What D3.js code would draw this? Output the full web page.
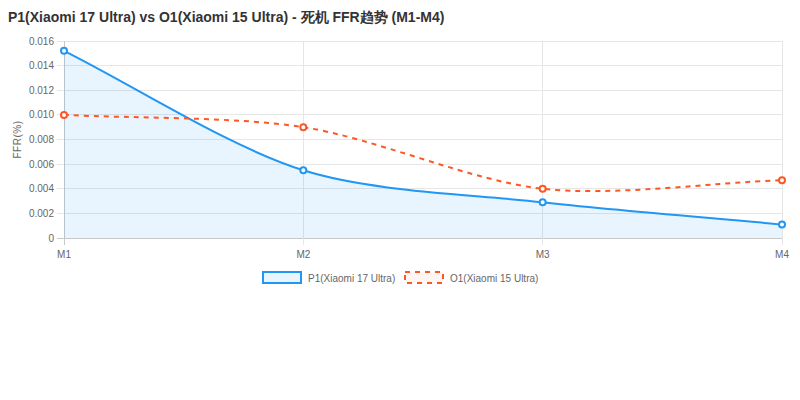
<!DOCTYPE html>
<html><head><meta charset="utf-8">
<script src="https://cdn.jsdelivr.net/npm/d3@7"></script>
<style>
html,body{margin:0;padding:0;background:#fff;}
svg{display:block;font-family:"Liberation Sans",Arial,Helvetica,sans-serif;}
</style></head>
<body><svg id="c" width="800" height="400"></svg>
<script>
const categories = ["M1","M2","M3","M4"];
const p1Values = [0.0152, 0.0055, 0.0029, 0.0011];
const o1Values = [0.0100, 0.0090, 0.0040, 0.0047];
const yTicks = [0,0.002,0.004,0.006,0.008,0.010,0.012,0.014,0.016];
const yTickLabels = ["0","0.002","0.004","0.006","0.008","0.010","0.012","0.014","0.016"];
const seriesNames = ["P1(Xiaomi 17 Ultra)","O1(Xiaomi 15 Ultra)"];
const titleText = "P1(Xiaomi 17 Ultra) vs O1(Xiaomi 15 Ultra) - 死机 FFR趋势 (M1-M4)";
const yTitle = "FFR(%)";

const svg = d3.select("#c");
const L=64,R=782,T=41,B=238;
const x = d3.scalePoint().domain(categories).range([L,R]);
const y = d3.scaleLinear().domain([0,0.016]).range([B,T]);

svg.append("text").attr("x",8).attr("y",22).attr("font-size",14).attr("font-weight","bold")
  .attr("fill","#333").text(titleText);

const g = svg.append("g");
yTicks.forEach((t,i)=>{
  g.append("line").attr("x1",L-7).attr("x2",R).attr("y1",y(t)).attr("y2",y(t))
   .attr("stroke", i===0?"#c8c8c8":"#e6e6e6").attr("stroke-width",1).attr("shape-rendering","crispEdges");
  svg.append("text").attr("x",L-10).attr("y",y(t)).attr("dy","0.35em").attr("text-anchor","end")
   .attr("font-size",10).attr("fill","#666").text(yTickLabels[i]);
});
categories.forEach((c,i)=>{
  g.append("line").attr("x1",x(c)).attr("x2",x(c)).attr("y1",T).attr("y2",B+7)
   .attr("stroke", i===0?"#c8c8c8":"#e6e6e6").attr("stroke-width",1).attr("shape-rendering","crispEdges");
  svg.append("text").attr("x",x(c)).attr("y",B+20).attr("text-anchor","middle")
   .attr("font-size",10).attr("fill","#666").text(c);
});
svg.append("text").attr("transform",`translate(21,${(T+B)/2}) rotate(-90)`).attr("text-anchor","middle")
  .attr("font-size",10).attr("fill","#666").attr("letter-spacing","0.5").text(yTitle);

function splinePath(pts, tension){
  const cps = pts.map((cur,i)=>{
    const prev = pts[i-1]||cur, next = pts[i+1]||cur;
    const d01 = Math.hypot(cur[0]-prev[0],cur[1]-prev[1]);
    const d12 = Math.hypot(next[0]-cur[0],next[1]-cur[1]);
    let s01 = d01/(d01+d12), s12 = d12/(d01+d12);
    if(isNaN(s01)) s01=0; if(isNaN(s12)) s12=0;
    const fa=tension*s01, fb=tension*s12;
    return {
      p:[cur[0]-fa*(next[0]-prev[0]), cur[1]-fa*(next[1]-prev[1])],
      n:[cur[0]+fb*(next[0]-prev[0]), cur[1]+fb*(next[1]-prev[1])]
    };
  });
  const p = d3.path();
  p.moveTo(pts[0][0],pts[0][1]);
  for(let i=1;i<pts.length;i++){
    const a=cps[i-1].n, b=cps[i].p;
    const cy=v=>Math.max(T,Math.min(B,v));
    p.bezierCurveTo(a[0],cy(a[1]),b[0],cy(b[1]),pts[i][0],pts[i][1]);
  }
  return p.toString();
}

const p1Pts = categories.map((c,i)=>[x(c),y(p1Values[i])]);
const o1Pts = categories.map((c,i)=>[x(c),y(o1Values[i])]);
const blue="#2196F3", orange="#FF5722";

const p1Line = splinePath(p1Pts,0.3);
svg.append("path").attr("d", p1Line + `L${x(categories[3])},${y(0)}L${x(categories[0])},${y(0)}Z`)
  .attr("fill","rgba(33,150,243,0.1)").attr("stroke","none");
svg.append("path").attr("d",p1Line).attr("fill","none").attr("stroke",blue).attr("stroke-width",2);
svg.append("path").attr("d",splinePath(o1Pts,0.3)).attr("fill","none").attr("stroke",orange)
  .attr("stroke-width",2).attr("stroke-dasharray","5,5");

[[p1Pts,blue],[o1Pts,orange]].forEach(([pts,col])=>{
  pts.forEach(pt=>{
    svg.append("circle").attr("cx",pt[0]).attr("cy",pt[1]).attr("r",3)
      .attr("fill","#fff").attr("stroke",col).attr("stroke-width",2);
  });
});

const lg = svg.append("g");
lg.append("rect").attr("x",263).attr("y",272).attr("width",38).attr("height",11)
  .attr("fill","rgba(33,150,243,0.1)").attr("stroke",blue).attr("stroke-width",2);
lg.append("text").attr("x",308).attr("y",281.5).attr("font-size",10).attr("fill","#666").text(seriesNames[0]);
lg.append("rect").attr("x",405).attr("y",272).attr("width",38).attr("height",11)
  .attr("fill","rgba(255,87,34,0.05)").attr("stroke",orange).attr("stroke-width",2).attr("stroke-dasharray","5,5");
lg.append("text").attr("x",450).attr("y",281.5).attr("font-size",10).attr("fill","#666").text(seriesNames[1]);
</script></body></html>
